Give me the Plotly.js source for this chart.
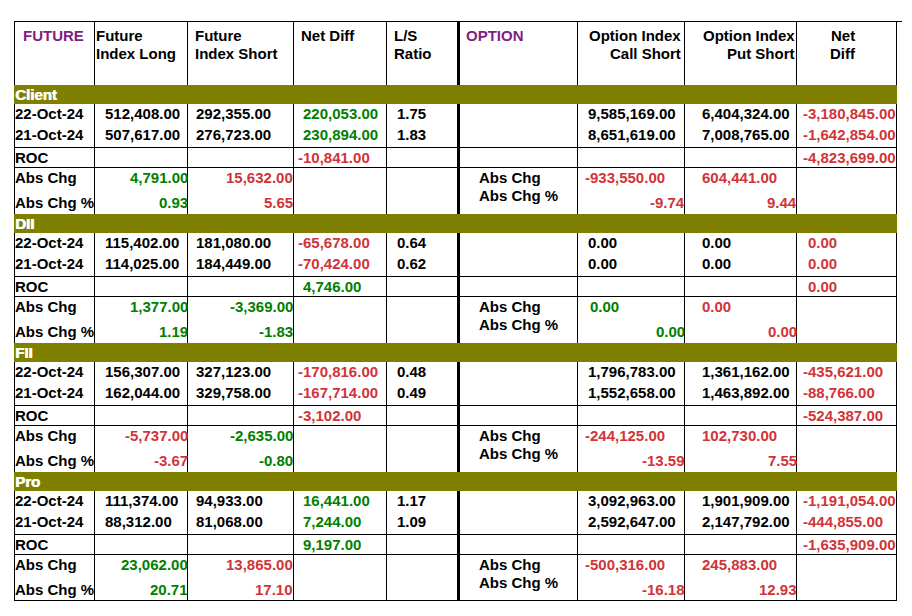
<!DOCTYPE html>
<html>
<head>
<meta charset="utf-8">
<script src="https://cdn.plot.ly/plotly-3.0.1.min.js"></script>
<style>
html,body{margin:0;padding:0;background:#fff;}
#chart{width:912px;height:616px;}
</style>
</head>
<body>
<div id="chart"></div>
<script>
// ---------------- DATA ----------------
const sections = ['Client', 'DII', 'FII', 'Pro'];
const dates = ['22-Oct-24', '21-Oct-24'];

const futHeaders = ['FUTURE', ['Future', 'Index Long'], ['Future', 'Index Short'], 'Net Diff', ['L/S', 'Ratio']];
const optHeaders = ['OPTION', ['Option Index', 'Call Short'], ['Option Index', 'Put Short'], ['Net', 'Diff']];
const rowLabels = ['ROC', 'Abs Chg', 'Abs Chg %'];

const futLong  = [[512408, 507617], [115402, 114025], [156307, 162044], [111374, 88312]];
const futShort = [[292355, 276723], [181080, 184449], [327123, 329758], [94933, 81068]];
const futNet   = [[220053, 230894], [-65678, -70424], [-170816, -167714], [16441, 7244]];
const lsRatio  = [[1.75, 1.83], [0.64, 0.62], [0.48, 0.49], [1.17, 1.09]];
const futRoc      = [-10841, 4746, -3102, 9197];
const futAbsLong  = [4791, 1377, -5737, 23062];
const futAbsShort = [15632, -3369, -2635, 13865];
const futPctLong  = [0.93, 1.19, -3.67, 20.71];
const futPctShort = [5.65, -1.83, -0.80, 17.10];

const optCall = [[9585169, 8651619], [0, 0], [1796783, 1552658], [3092963, 2592647]];
const optPut  = [[6404324, 7008765], [0, 0], [1361162, 1463892], [1901909, 2147792]];
const optNet  = [[-3180845, -1642854], [0, 0], [-435621, -88766], [-1191054, -444855]];
const optRoc     = [-4823699, 0, -524387, -1635909];
const optAbsCall = [-933550, 0, -244125, -500316];
const optAbsPut  = [604441, 0, 102730, 245883];
const optPctCall = [-9.74, 0.00, -13.59, -16.18];
const optPctPut  = [9.44, 0.00, 7.55, 12.93];

// ---------------- STYLE / LAYOUT CONSTANTS ----------------
const W = 912, H = 616;
const GREEN = '#008000', RED = '#d13438', BLACK = '#000000', PURPLE = '#7f1f80', OLIVE = '#808000';
const FONT = 'Liberation Sans, Arial, sans-serif';
const FS = 15;
const WEIGHT = 'bold';
const LEFT = 14, RIGHT = 896, TOP = 21, BOTTOM = 600;
const vLines = [14, 94, 187, 293, 386, 577, 684, 796, 896];
const thickX = 458.5;
const bandTops = [85, 214, 343, 472];
const bandH = 19;

function fmt(v) {
  return v.toLocaleString('en-US', {minimumFractionDigits: 2, maximumFractionDigits: 2});
}
const signCol = v => v > 0 ? GREEN : (v < 0 ? RED : BLACK);
const invCol = v => v > 0 ? RED : (v < 0 ? GREEN : BLACK);
const netOptCol = v => v > 0 ? GREEN : RED;
const callCol = v => v >= 0 ? GREEN : RED;
const putCol = v => v >= 0 ? RED : GREEN;

const annotations = [];
function ann(x, y, text, color, xanchor, extra) {
  annotations.push(Object.assign({
    x: x, y: y, xref: 'x', yref: 'y', text: text, showarrow: false,
    xanchor: xanchor || 'left', yanchor: 'middle',
    font: {family: FONT, size: FS, color: color || BLACK, weight: WEIGHT},
    borderpad: 0, borderwidth: 0
  }, extra || {}));
}
function ann2(x, lines, color, xanchor) {
  ann(x, 35.5, lines[0], color, xanchor);
  ann(x, 53.5, lines[1], color, xanchor);
}

// headers
ann(22.5, 35.5, futHeaders[0], PURPLE);
ann2(95.5, futHeaders[1], BLACK);
ann2(195, futHeaders[2], BLACK);
ann(300.5, 35.5, futHeaders[3], BLACK);
ann2(393.5, futHeaders[4], BLACK);
ann(466, 35.5, optHeaders[0], PURPLE);
ann2(680.5, optHeaders[1], BLACK, 'right');
ann2(795, optHeaders[2], BLACK, 'right');
ann2(843, optHeaders[3], BLACK, 'center');

const shapes = [];
function line(x0, y0, x1, y1, w) {
  shapes.push({type: 'line', xref: 'x', yref: 'y', x0: x0, y0: y0, x1: x1, y1: y1,
    line: {color: BLACK, width: w || 1}});
}
// outer / grid lines
line(LEFT, TOP + 0.5, 902, TOP + 0.5);
vLines.forEach(x => line(x + 0.5, TOP, x + 0.5, BOTTOM + 1));
line(thickX, TOP, thickX, BOTTOM + 1, 3);
line(LEFT, BOTTOM + 0.5, RIGHT + 1, BOTTOM + 0.5);

const netX = v => v < 0 ? 298 : 302.5;
const optNetX = v => v < 0 ? 802.5 : 807.5;

sections.forEach((name, s) => {
  const B = bandTops[s];
  // row separators
  line(LEFT, B + 62.5, RIGHT + 1, B + 62.5);
  line(LEFT, B + 82.5, RIGHT + 1, B + 82.5);
  // band
  shapes.push({type: 'rect', xref: 'x', yref: 'y', x0: LEFT, x1: RIGHT + 1, y0: B, y1: B + bandH,
    fillcolor: OLIVE, line: {width: 0}});
  ann(15, B + 9.5, name, '#ffffff', 'left', {font: {family: FONT, size: FS, color: '#ffffff', weight: 'bold', shadow: '0.7px 0 0 #ffffff'}});

  const ys = [B + 28.5, B + 49];
  dates.forEach((d, i) => {
    const y = ys[i];
    ann(15, y, d, BLACK);
    ann(105, y, fmt(futLong[s][i]), BLACK);
    ann(196, y, fmt(futShort[s][i]), BLACK);
    ann(netX(futNet[s][i]), y, fmt(futNet[s][i]), signCol(futNet[s][i]));
    ann(397, y, fmt(lsRatio[s][i]), BLACK);
    ann(587.5, y, fmt(optCall[s][i]), BLACK);
    ann(701.5, y, fmt(optPut[s][i]), BLACK);
    ann(optNetX(optNet[s][i]), y, fmt(optNet[s][i]), netOptCol(optNet[s][i]));
  });

  const yRoc = B + 72.5, yAbs = B + 92, yPct = B + 117.5;
  ann(15, yRoc, rowLabels[0], BLACK);
  ann(netX(futRoc[s]), yRoc, fmt(futRoc[s]), signCol(futRoc[s]));
  ann(optNetX(optRoc[s]), yRoc, fmt(optRoc[s]), netOptCol(optRoc[s]));

  ann(15, yAbs, rowLabels[1], BLACK);
  ann(15, yPct, rowLabels[2], BLACK);
  ann(187.5, yAbs, fmt(futAbsLong[s]), signCol(futAbsLong[s]), 'right');
  ann(293, yAbs, fmt(futAbsShort[s]), invCol(futAbsShort[s]), 'right');
  ann(187.5, yPct, fmt(futPctLong[s]), signCol(futPctLong[s]), 'right');
  ann(293, yPct, fmt(futPctShort[s]), invCol(futPctShort[s]), 'right');

  ann(478.5, yAbs, rowLabels[1], BLACK);
  ann(478.5, B + 110.5, rowLabels[2], BLACK);
  ann(optAbsCall[s] < 0 ? 584.5 : 589.5, yAbs, fmt(optAbsCall[s]), callCol(optAbsCall[s]));
  ann(701.5, yAbs, fmt(optAbsPut[s]), putCol(optAbsPut[s]));
  ann(684.5, B + 117, fmt(optPctCall[s]), callCol(optPctCall[s]), 'right');
  ann(796.5, B + 117, fmt(optPctPut[s]), putCol(optPctPut[s]), 'right');
});

const layout = {
  width: W, height: H,
  margin: {l: 0, r: 0, t: 0, b: 0, pad: 0},
  paper_bgcolor: '#ffffff', plot_bgcolor: '#ffffff',
  showlegend: false,
  xaxis: {range: [0, W], visible: false, fixedrange: true},
  yaxis: {range: [H, 0], visible: false, fixedrange: true},
  shapes: shapes,
  annotations: annotations
};

Plotly.newPlot('chart', [{x: [], y: [], type: 'scatter', mode: 'markers', hoverinfo: 'skip'}], layout,
  {displayModeBar: false, staticPlot: true});
</script>
</body>
</html>
